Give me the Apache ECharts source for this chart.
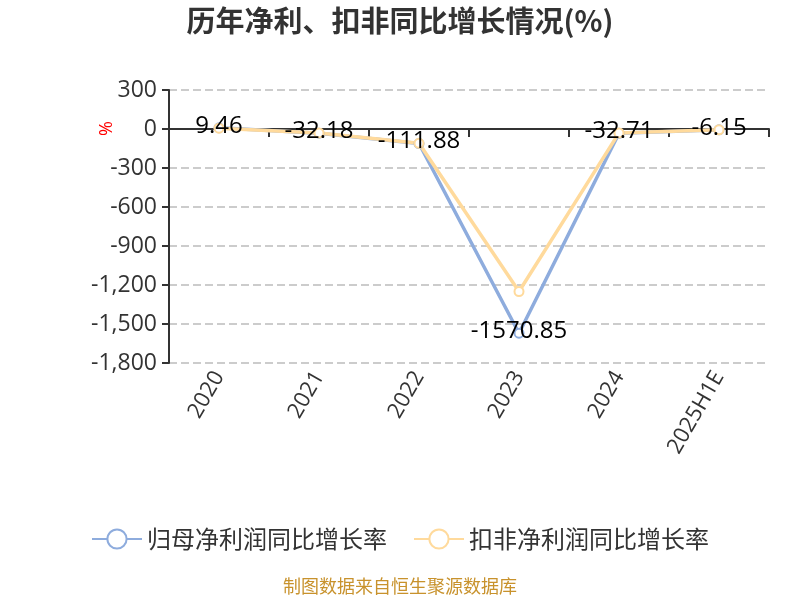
<!DOCTYPE html>
<html>
<head>
<meta charset="utf-8">
<script src="https://cdn.jsdelivr.net/npm/echarts@6/dist/echarts.min.js"></script>
<style>html,body{margin:0;padding:0;background:#fff}#main{width:800px;height:600px}</style>
</head>
<body>
<div id="main"></div>
<script>
var categories = ['2020', '2021', '2022', '2023', '2024', '2025H1E'];
var netProfitGrowth = [9.46, -32.18, -111.88, -1570.85, -32.71, -6.15];
var deductedProfitGrowth = [6, -30, -110, -1250, -30, -6];
var seriesNames = ['归母净利润同比增长率', '扣非净利润同比增长率'];

var chart = echarts.init(document.getElementById('main'));
var fontFam = '"Open Sans", "Noto Sans CJK SC", sans-serif';
var cjkFam = '"Noto Sans CJK SC", sans-serif';
chart.setOption({
  animation: false,
  textStyle: { fontFamily: fontFam },
  title: {
    text: '历年净利、扣非同比增长情况(%)',
    left: 'center', top: 1,
    textStyle: { fontSize: 29, fontWeight: 'bold', color: '#333', fontFamily: cjkFam }
  },
  grid: { left: 169, right: 31, top: 90, bottom: 237 },
  legend: {
    bottom: 44, left: 'center',
    itemWidth: 50, itemHeight: 24, itemGap: 26,
    textStyle: { fontSize: 24, color: '#333', fontFamily: cjkFam },
    data: seriesNames
  },
  graphic: [
    { type: 'text', left: 'center', top: 577,
      style: { text: '制图数据来自恒生聚源数据库', fill: '#c8922c', fontSize: 18, fontFamily: cjkFam } },
    { type: 'text', x: 98, y: 136, rotation: Math.PI / 2,
      style: { text: '%', fill: '#ff0000', fontSize: 18, fontFamily: fontFam } }
  ],
  xAxis: [
    {
      type: 'category', data: categories, position: 'bottom',
      axisLine: { show: false, onZero: false }, axisTick: { show: false },
      axisLabel: { rotate: 60, fontSize: 22, color: '#333', margin: 10 }
    },
    {
      type: 'category', data: categories, position: 'top',
      axisLine: { show: true, onZero: true, lineStyle: { color: '#333', width: 2 } },
      axisTick: { show: true, inside: true, length: 8, lineStyle: { color: '#333', width: 2 } },
      axisLabel: { show: false }
    }
  ],
  yAxis: {
    type: 'value', min: -1800, max: 300, interval: 300,
    axisLine: { show: true, lineStyle: { color: '#333', width: 2 } },
    axisTick: { show: true, length: 7, lineStyle: { color: '#333', width: 2 } },
    axisLabel: { fontSize: 23, color: '#333', margin: 12 },
    splitLine: { lineStyle: { type: 'dashed', color: '#cccccc', width: 2 } }
  },
  series: [
    {
      name: seriesNames[0], type: 'line', xAxisIndex: 0, data: netProfitGrowth,
      symbol: 'emptyCircle', symbolSize: 9,
      itemStyle: { color: '#8eacdd' }, lineStyle: { width: 3.5, color: '#8eacdd' },
      label: { show: true, position: 'inside', fontSize: 24, color: '#000', offset: [0, -2] }
    },
    {
      name: seriesNames[1], type: 'line', xAxisIndex: 0, data: deductedProfitGrowth,
      symbol: 'emptyCircle', symbolSize: 9,
      itemStyle: { color: '#ffda9c' }, lineStyle: { width: 3.5, color: '#ffda9c' }
    }
  ]
});
</script>
</body>
</html>
